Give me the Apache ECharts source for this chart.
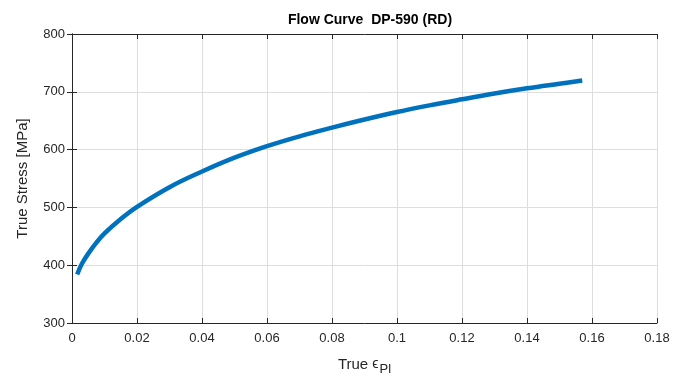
<!DOCTYPE html>
<html>
<head>
<meta charset="utf-8">
<script src="https://cdn.jsdelivr.net/npm/echarts@6/dist/echarts.min.js"></script>
<style>
  html, body { margin: 0; padding: 0; background: #fff; }
  #chart { width: 675px; height: 381px; }
</style>
</head>
<body>
<div id="chart"></div>
<script>
// plastic strain vs true stress
const strain = [0.0016, 0.003, 0.005, 0.0075, 0.01, 0.015, 0.02, 0.03, 0.04, 0.05, 0.06, 0.07, 0.08, 0.09, 0.1, 0.11, 0.12, 0.13, 0.14, 0.15, 0.157];
const stress = [384, 402, 420, 439, 455, 480, 501, 535, 562, 586, 606, 623, 638, 652, 665, 676.5, 687, 697, 706, 714, 719.5];

const xTicks = { min: 0, max: 0.18, interval: 0.02 };
const yTicks = { min: 300, max: 800, interval: 100 };

const font = "'Liberation Sans', Arial, sans-serif";
const axisColor = '#262626';

const chart = echarts.init(document.getElementById('chart'));

function xLabel(v) {
  return String(Math.round(v * 100) / 100);
}

const baseX = {
  type: 'value',
  min: xTicks.min,
  max: xTicks.max,
  interval: xTicks.interval,
  axisLine: { show: true, lineStyle: { color: axisColor, width: 1 } },
  axisTick: { show: true, inside: true, length: 5, lineStyle: { color: axisColor } },
};
const baseY = {
  type: 'value',
  min: yTicks.min,
  max: yTicks.max,
  interval: yTicks.interval,
  axisLine: { show: true, lineStyle: { color: axisColor, width: 1 } },
  axisTick: { show: true, inside: true, length: 5, lineStyle: { color: axisColor } },
};

chart.setOption({
  animation: false,
  title: {
    text: 'Flow Curve  DP-590 (RD)',
    left: 365,
    textAlign: 'center',
    top: 8,
    textStyle: { fontFamily: font, fontSize: 14, fontWeight: 'bold', color: '#000' },
  },
  grid: { left: 72, right: 18, top: 34, bottom: 58 },
  xAxis: [
    Object.assign({}, baseX, {
      position: 'bottom',
      name: '{t|True }{e|ϵ}{s|Pl}',
      nameLocation: 'middle',
      nameGap: 30,
      nameTextStyle: {
        rich: {
          t: { fontFamily: font, fontSize: 15, color: axisColor },
          e: { fontFamily: font, fontSize: 14, color: axisColor },
          s: { fontFamily: font, fontSize: 13, color: axisColor, padding: [10, 0, 0, 1] },
        },
      },
      axisLabel: { fontFamily: font, fontSize: 13, color: axisColor, margin: 9, formatter: xLabel },
      splitLine: { show: true, lineStyle: { color: '#dedede', width: 1 } },
    }),
    Object.assign({}, baseX, {
      position: 'top',
      axisLabel: { show: false },
      splitLine: { show: false },
    }),
  ],
  yAxis: [
    Object.assign({}, baseY, {
      position: 'left',
      name: 'True Stress [MPa]',
      nameLocation: 'middle',
      nameGap: 42,
      nameTextStyle: { fontFamily: font, fontSize: 15, color: axisColor },
      axisLabel: { fontFamily: font, fontSize: 13, color: axisColor, margin: 7 },
      splitLine: { show: true, lineStyle: { color: '#dedede', width: 1 } },
    }),
    Object.assign({}, baseY, {
      position: 'right',
      axisLabel: { show: false },
      splitLine: { show: false },
    }),
  ],
  series: [
    {
      type: 'line',
      data: strain.map((x, i) => [x, stress[i]]),
      smooth: 0.4,
      showSymbol: false,
      lineStyle: { color: '#0072BD', width: 4.5, cap: 'butt' },
    },
  ],
});
</script>
</body>
</html>
